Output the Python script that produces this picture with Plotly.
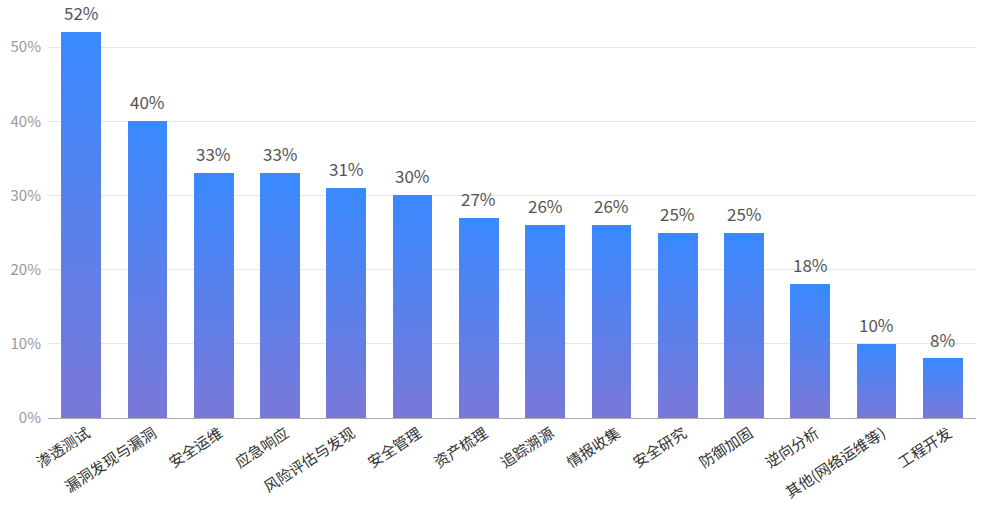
import plotly.graph_objects as go

categories = ["渗透测试", "漏洞发现与漏洞", "安全运维", "应急响应", "风险评估与发现", "安全管理",
              "资产梳理", "追踪溯源", "情报收集", "安全研究", "防御加固", "逆向分析",
              "其他(网络运维等)", "工程开发"]
values = [52, 40, 33, 33, 31, 30, 27, 26, 26, 25, 25, 18, 10, 8]
y_ticks = [0, 10, 20, 30, 40, 50]
y_tick_labels = ["0%", "10%", "20%", "30%", "40%", "50%"]

top_rgb = (58, 137, 255)
bottom_rgb = (121, 120, 216)
N = 60

fig = go.Figure()
for i in range(N):
    t = i / (N - 1)  # 0 bottom -> 1 top
    c = tuple(round(bottom_rgb[k] + (top_rgb[k] - bottom_rgb[k]) * t) for k in range(3))
    fig.add_trace(go.Bar(
        x=categories, y=[v / N for v in values],
        marker=dict(color=f"rgb{c}", line=dict(width=0)),
        hoverinfo="skip", showlegend=False,
    ))

for cat, v in zip(categories, values):
    fig.add_annotation(
        x=cat, y=v, text=f"{v}%", showarrow=False,
        xanchor="center", yanchor="bottom", yshift=5,
        font=dict(size=17, color="#555555", family="Noto Sans CJK SC"),
    )

fig.update_layout(
    width=1000, height=514,
    barmode="stack", bargap=0.4,
    margin=dict(l=48, r=24, t=10, b=96),
    plot_bgcolor="white", paper_bgcolor="white",
    font=dict(family="Noto Sans CJK SC", color="#333333"),
    xaxis=dict(
        tickangle=-33, tickfont=dict(size=15, color="#333333"),
        showline=True, linecolor="#aaaaaa", linewidth=1,
        ticks="", showgrid=False, automargin=False,
        ticklabelshift=6,
    ),
    yaxis=dict(
        range=[0, 55], tickvals=y_ticks, ticktext=y_tick_labels,
        tickfont=dict(size=15, color="#999999"),
        showgrid=True, gridcolor="#e6e6e6", gridwidth=1,
        zeroline=False, showline=False, ticklabelstandoff=6,
        automargin=False,
    ),
)

fig.write_html("out.html")
